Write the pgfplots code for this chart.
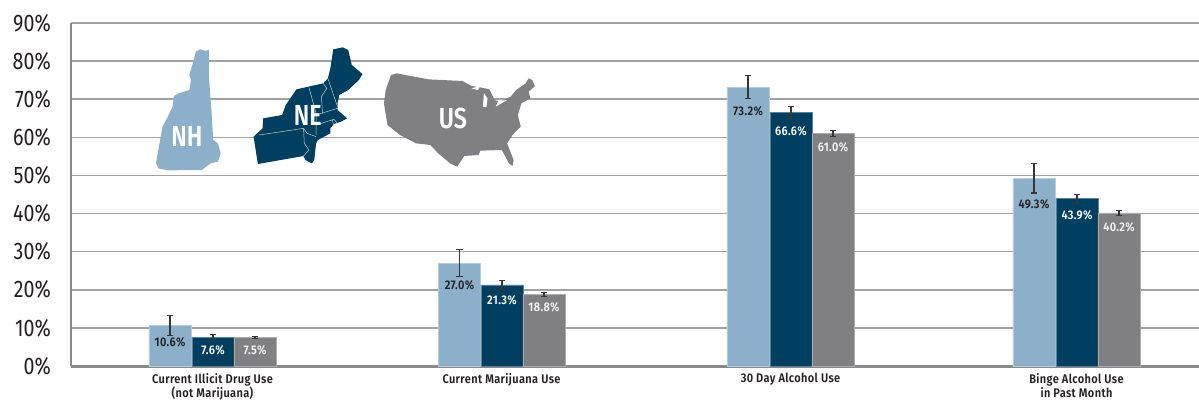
\documentclass[border=0pt]{standalone}
\usepackage{pgfplots}
\pgfplotsset{compat=1.18}
\usepackage{fontspec}
\setmainfont[FakeStretch=0.82]{Fira Sans}
\newfontfamily\lab[FakeStretch=0.88,LetterSpace=3]{Fira Sans SemiBold}
\newfontfamily\mapf[FakeStretch=0.80]{Fira Sans SemiBold}
\definecolor{nh}{HTML}{8CB0C9}
\definecolor{ne}{HTML}{003F5F}
\definecolor{us}{HTML}{808082}
\definecolor{ink}{HTML}{231F20}
\definecolor{gridc}{HTML}{A2A2A4}
\definecolor{axisc}{HTML}{8A8A8C}
\pgfplotsset{
  series/.style={ybar, bar width=42.3, bar shift=0pt, mark=none, fill=#1, draw=white!35!#1, line width=0.4pt,
    error bars/.cd, y dir=both, y explicit,
    error bar style={draw=ink!90, line width=1.4pt},
    error mark options={draw=ink!90, rotate=90, mark size=3.2pt, line width=1.1pt}},
  vals/.style={draw=none, mark=none, forget plot, point meta=explicit symbolic,
    nodes near coords, nodes near coords align={center},
    every node near coord/.append style={text=#1, font=\fontsize{12.5}{13}\selectfont\lab, inner sep=0pt}},
}
\begin{document}
\begin{tikzpicture}[x=1pt,y=1pt]
\path[use as bounding box] (0,0) rectangle (1199,400);
\begin{axis}[
  at={(71pt,34pt)}, anchor=origin, scale only axis,
  width=1128pt, height=343pt,
  xmin=71, xmax=1199, ymin=0, ymax=90,
  axis x line=bottom, axis y line=left,
  axis line style={-},
  x axis line style={draw=axisc, line width=3pt},
  y axis line style={draw=axisc, line width=2.6pt},
  ytick={0,10,...,90},
  yticklabel={\pgfmathprintnumber{\tick}\%},
  /pgf/number format/assume math mode=true,
  yticklabel style={font=\fontsize{24}{24}\selectfont, text=ink, anchor=east, xshift=-20pt, inner sep=0pt},
  xtick={212.5,501.5,790.5,1076.5},
  xticklabels={{Current Illicit Drug Use\\(not Marijuana)},{Current Marijuana Use},{30 Day Alcohol Use},{Binge Alcohol Use\\in Past Month}},
  xticklabel style={font=\fontsize{12.5}{14}\selectfont\lab, text=ink, align=center, anchor=north, yshift=-7pt, inner sep=0pt},
  major tick length=0pt,
  ymajorgrids, major grid style={draw=gridc, line width=1.5pt},
  clip=false,
]
\addplot[series=nh] table[x=x,y=y,y error=e] {
x y e
170 10.6 2.6
459.5 27.0 3.6
748 73.2 3.0
1034 49.3 3.9
};
\addplot[series=ne] table[x=x,y=y,y error=e] {
x y e
213 7.6 0.7
502 21.3 1.2
791 66.6 1.6
1077 43.9 1.2
};
\addplot[series=us] table[x=x,y=y,y error=e] {
x y e
255 7.5 0.3
544 18.8 0.6
833 61.0 0.7
1119 40.2 0.7
};
\addplot[vals=ink] coordinates {(170,6.3)[10.6\%] (459.5,21.3)[27.0\%] (748,66.9)[73.2\%] (1034,42.5)[49.3\%]};
\addplot[vals=white] coordinates {(213,4.2)[7.6\%] (502,17.3)[21.3\%] (791,61.7)[66.6\%] (1077,39.6)[43.9\%]};
\addplot[vals=white!96!black] coordinates {(255,4.2)[7.5\%] (544,15.5)[18.8\%] (833,57.5)[61.0\%] (1119,36.5)[40.2\%]};
\end{axis}
% map silhouettes: coordinates in zoomed-picture units
\begin{scope}[x=0.35714pt,y=-0.33333pt,shift={(0,-1200)}]
\fill[nh] (548,155)--(560,148)--(575,152)--(585,150)--(585,230)--(592,330)--(597,420)--(610,430)--(618,460)--(610,485)--(590,490)--(565,510)--(470,511)--(443,505)--(437,488)--(445,440)--(455,380)--(470,350)--(483,320)--(487,288)--(500,280)--(530,270)--(535,240)--(530,225)--(540,190)--cycle;
\fill[ne] (933,148)--(960,142)--(975,150)--(985,195)--(1015,222)--(1005,240)--(975,270)--(950,285)--(945,310)--(945,330)--(972,355)--(955,365)--(935,372)--(925,385)--(925,400)--(890,420)--(885,430)--(880,480)--(873,490)--(855,480)--(850,468)--(722,492)--(710,410)--(735,385)--(737,355)--(790,345)--(800,315)--(830,268)--(905,250)--(918,235)--(925,205)--cycle;
\draw[white!75!ne, line width=0.5pt] (725,405)--(850,385)--(860,400)--(885,410) (850,385)--(852,430)--(865,450)--(850,468) (865,262)--(885,340)--(885,405) (905,250)--(915,265)--(900,290)--(903,340) (918,235)--(945,320) (885,345)--(945,325) (885,375)--(935,358)--(945,370) (930,358)--(935,378);
\fill[us] (1095,225)--(1110,220)--(1200,238)--(1295,243)--(1320,258)--(1345,262)--(1370,268)--(1385,300)--(1400,305)--(1430,290)--(1445,270)--(1472,250)--(1480,235)--(1490,240)--(1498,258)--(1480,275)--(1485,295)--(1460,310)--(1450,345)--(1458,380)--(1435,405)--(1420,430)--(1438,480)--(1435,498)--(1425,490)--(1405,450)--(1345,452)--(1340,465)--(1300,468)--(1280,500)--(1260,490)--(1225,458)--(1205,435)--(1165,430)--(1120,405)--(1085,375)--(1075,310)--(1080,270)--cycle;
\fill[white] (1355,280)--(1352,320)--(1362,322)--(1365,295)--cycle (1320,265)--(1345,258)--(1338,270)--cycle (1388,320)--(1420,300)--(1395,303)--cycle;
\node[white, font=\fontsize{29}{29}\selectfont\mapf, inner sep=0pt] at (523,408) {NH};
\node[white, font=\fontsize{29}{29}\selectfont\mapf, inner sep=0pt] at (862,345) {NE};
\node[white, font=\fontsize{29}{29}\selectfont\mapf, inner sep=0pt] at (1268,355) {US};
\end{scope}
\end{tikzpicture}
\end{document}
